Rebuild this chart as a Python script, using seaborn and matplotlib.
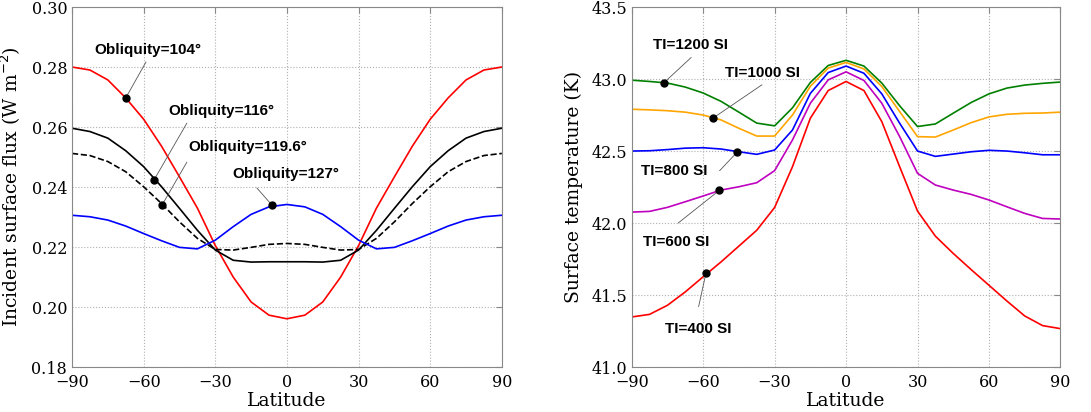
import numpy as np
import pandas as pd
import matplotlib
matplotlib.use("Agg")
import matplotlib.pyplot as plt
import seaborn as sns

# Breddegrader (hver 7.5 grad)
lat = [-90, -82.5, -75, -67.5, -60, -52.5, -45, -37.5, -30, -22.5, -15, -7.5, 0,
       7.5, 15, 22.5, 30, 37.5, 45, 52.5, 60, 67.5, 75, 82.5, 90]

# Venstre panel: innkommende fluks
flux_104 = [0.2800, 0.2790, 0.2757, 0.2697, 0.2626, 0.2536, 0.2434, 0.2330, 0.2205, 0.2100, 0.2017, 0.1973, 0.1961,
            0.1973, 0.2017, 0.2100, 0.2205, 0.2330, 0.2434, 0.2536, 0.2626, 0.2697, 0.2757, 0.2790, 0.2800]
flux_116 = [0.2596, 0.2585, 0.2563, 0.2521, 0.2468, 0.2401, 0.2329, 0.2256, 0.2190, 0.2156, 0.2150, 0.2151, 0.2151,
            0.2151, 0.2150, 0.2156, 0.2190, 0.2256, 0.2329, 0.2401, 0.2468, 0.2521, 0.2563, 0.2585, 0.2596]
flux_1196 = [0.2512, 0.2505, 0.2485, 0.2451, 0.2401, 0.2345, 0.2284, 0.2229, 0.2192, 0.2190, 0.2199, 0.2209, 0.2212,
             0.2209, 0.2199, 0.2190, 0.2192, 0.2229, 0.2284, 0.2345, 0.2401, 0.2451, 0.2485, 0.2505, 0.2512]
flux_127 = [0.2306, 0.2301, 0.2290, 0.2270, 0.2245, 0.2221, 0.2199, 0.2194, 0.2223, 0.2268, 0.2309, 0.2334, 0.2342,
            0.2334, 0.2309, 0.2268, 0.2223, 0.2194, 0.2199, 0.2221, 0.2245, 0.2270, 0.2290, 0.2301, 0.2306]

# Hoyre panel: overflatetemperatur
temp_1200 = [42.992, 42.983, 42.972, 42.944, 42.903, 42.845, 42.770, 42.694, 42.675, 42.800, 42.976, 43.094, 43.130,
             43.090, 42.972, 42.814, 42.670, 42.688, 42.763, 42.837, 42.897, 42.937, 42.958, 42.970, 42.979]
temp_1000 = [42.790, 42.786, 42.780, 42.770, 42.750, 42.716, 42.658, 42.604, 42.604, 42.750, 42.950, 43.076, 43.115,
             43.070, 42.948, 42.774, 42.600, 42.597, 42.646, 42.697, 42.737, 42.755, 42.762, 42.764, 42.770]
temp_800 = [42.500, 42.502, 42.510, 42.520, 42.523, 42.514, 42.495, 42.477, 42.507, 42.646, 42.900, 43.045, 43.090,
            43.040, 42.897, 42.693, 42.500, 42.463, 42.479, 42.495, 42.505, 42.500, 42.488, 42.474, 42.474]
temp_600 = [42.076, 42.081, 42.109, 42.148, 42.188, 42.229, 42.252, 42.280, 42.364, 42.577, 42.832, 42.994, 43.050,
            42.990, 42.832, 42.600, 42.345, 42.264, 42.229, 42.199, 42.160, 42.113, 42.067, 42.032, 42.028]
temp_400 = [41.348, 41.366, 41.429, 41.522, 41.627, 41.730, 41.840, 41.950, 42.108, 42.391, 42.728, 42.920, 42.983,
            42.920, 42.704, 42.391, 42.083, 41.909, 41.789, 41.677, 41.568, 41.459, 41.355, 41.288, 41.267]

# Etiketter: tekst, punkt, linjeslutt, tekstposisjon
flux_labels = ["Obliquity=104°", "Obliquity=116°", "Obliquity=119.6°", "Obliquity=127°"]
flux_dots = [(-67.5, 0.2697), (-55.7, 0.2423), (-52.3, 0.2340), (-6.3, 0.2340)]
flux_ends = [(-59.0, 0.2817), (-41.9, 0.2613), (-41.9, 0.2483), (-12.6, 0.2397)]
flux_text = [(-80.8, 0.2857), (-49.8, 0.2653), (-41.4, 0.2533), (-23.0, 0.2443)]

temp_labels = ["TI=1200 SI", "TI=1000 SI", "TI=800 SI", "TI=600 SI", "TI=400 SI"]
temp_dots = [(-76.4, 42.975), (-56.0, 42.727), (-45.7, 42.493), (-53.2, 42.227), (-58.8, 41.653)]
temp_ends = [(-65.0, 43.150), (-35.3, 42.960), (-53.1, 42.363), (-70.5, 42.000), (-61.9, 41.420)]
temp_text = [(-81.2, 43.236), (-50.7, 43.044), (-85.9, 42.363), (-85.2, 41.870), (-75.9, 41.264)]

df_flux = pd.DataFrame({"lat": lat, "104": flux_104, "116": flux_116, "119.6": flux_1196, "127": flux_127})
df_temp = pd.DataFrame({"lat": lat, "1200": temp_1200, "1000": temp_1000, "800": temp_800,
                        "600": temp_600, "400": temp_400})

sns.set_style("white")
plt.rcParams["font.family"] = ["DejaVu Serif"]
plt.rcParams["text.color"] = "black"
plt.rcParams["axes.labelcolor"] = "black"
plt.rcParams["xtick.color"] = "black"
plt.rcParams["ytick.color"] = "black"

fig = plt.figure(figsize=(10.91, 4.12), dpi=100)
ax1 = fig.add_axes([0.066, 0.109, 0.394, 0.874])
ax2 = fig.add_axes([0.579, 0.109, 0.393, 0.874])

# Venstre panel
sns.lineplot(ax=ax1, data=df_flux, x="lat", y="104", color="red", lw=1.2)
sns.lineplot(ax=ax1, data=df_flux, x="lat", y="116", color="black", lw=1.2)
sns.lineplot(ax=ax1, data=df_flux, x="lat", y="119.6", color="black", lw=1.2, linestyle="--")
sns.lineplot(ax=ax1, data=df_flux, x="lat", y="127", color="blue", lw=1.2)
ax1.set_ylim(0.18, 0.30)
ax1.set_yticks(np.arange(0.18, 0.301, 0.02))
ax1.yaxis.set_major_formatter(matplotlib.ticker.FormatStrFormatter("%.2f"))
ax1.set_ylabel("Incident surface flux (W m$^{-2}$)", fontsize=13.5, labelpad=6)

# Hoyre panel
sns.lineplot(ax=ax2, data=df_temp, x="lat", y="1200", color="green", lw=1.2)
sns.lineplot(ax=ax2, data=df_temp, x="lat", y="1000", color="orange", lw=1.2)
sns.lineplot(ax=ax2, data=df_temp, x="lat", y="800", color="blue", lw=1.2)
sns.lineplot(ax=ax2, data=df_temp, x="lat", y="600", color="m", lw=1.2)
sns.lineplot(ax=ax2, data=df_temp, x="lat", y="400", color="red", lw=1.2)
ax2.set_ylim(41.0, 43.5)
ax2.set_yticks(np.arange(41.0, 43.51, 0.5))
ax2.yaxis.set_major_formatter(matplotlib.ticker.FormatStrFormatter("%.1f"))
ax2.set_ylabel("Surface temperature (K)", fontsize=13.5, labelpad=6)

for ax in (ax1, ax2):
    ax.set_xlim(-90, 90)
    ax.set_xticks([-90, -60, -30, 0, 30, 60, 90])
    ax.set_xlabel("Latitude", fontsize=13.5, labelpad=1)
    ax.grid(True, color="#b0b0b0", linestyle=":", linewidth=0.8)
    ax.tick_params(labelsize=11.5, direction="in", color="#888888", right=True, top=True, length=4)
    ax.tick_params(axis="x", pad=5)
    for s in ax.spines.values():
        s.set_color("#888888")

def merk(ax, labels, dots, ends, texts):
    for lab, d, e, t in zip(labels, dots, ends, texts):
        ax.plot([d[0], e[0]], [d[1], e[1]], color="#555555", lw=0.6)
        ax.plot(d[0], d[1], "o", color="black", ms=5)
        ax.text(t[0], t[1], lab, ha="left", va="center", fontsize=11, color="black",
                fontweight="bold", family=["Liberation Sans", "DejaVu Sans"])

merk(ax1, flux_labels, flux_dots, flux_ends, flux_text)
merk(ax2, temp_labels, temp_dots, temp_ends, temp_text)

fig.savefig("out.png", dpi=100)
